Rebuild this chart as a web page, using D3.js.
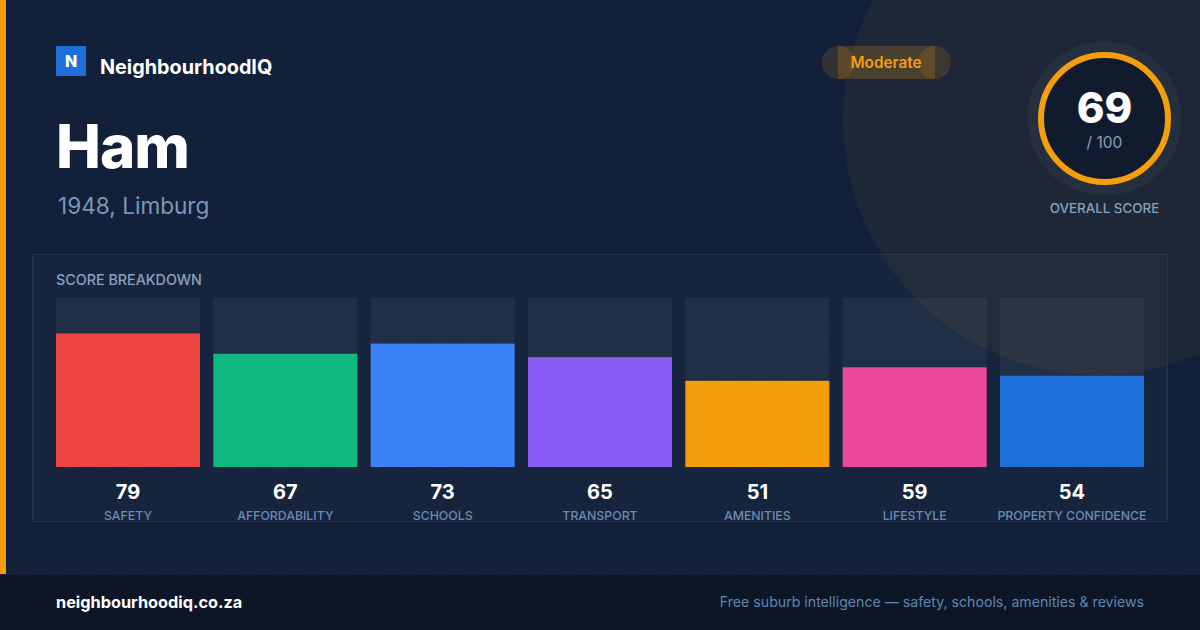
<!DOCTYPE html>
<html>
<head>
<meta charset="utf-8">
<script src="https://cdn.jsdelivr.net/npm/d3@7"></script>
<style>
  html, body { margin: 0; padding: 0; background: #12203a; }
  svg { display: block; font-family: Inter, "Noto Sans", sans-serif; }
</style>
</head>
<body>
<svg id="chart" width="1200" height="630"></svg>
<script>
// ---- data ----
const categories = ["SAFETY", "AFFORDABILITY", "SCHOOLS", "TRANSPORT", "AMENITIES", "LIFESTYLE", "PROPERTY CONFIDENCE"];
const scores = [79, 67, 73, 65, 51, 59, 54];
const barColors = ["#ef4444", "#10b981", "#3b82f6", "#8b5cf6", "#f59e0b", "#ec4899", "#1e6fd9"];
const overallScore = 69;
const overallMax = 100;
const ratingLabel = "Moderate";
const suburbName = "Ham";
const subtitle = "1948, Limburg";
const brandName = "NeighbourhoodIQ";
const footerLeft = "neighbourhoodiq.co.za";
const footerRight = "Free suburb intelligence — safety, schools, amenities & reviews";

const svg = d3.select("#chart");
const W = 1200, H = 630;

// background
svg.append("rect").attr("width", W).attr("height", H).attr("fill", "#12203a");

// dot pattern
const defs = svg.append("defs");
const pat = defs.append("pattern").attr("id", "dots").attr("patternUnits", "userSpaceOnUse")
  .attr("x", 8).attr("y", 8).attr("width", 32).attr("height", 32);
pat.append("circle").attr("cx", 16).attr("cy", 16).attr("r", 1.1).attr("fill", "rgba(255,255,255,0.05)");
svg.append("rect").attr("width", W).attr("height", 574).attr("fill", "url(#dots)");

// decorative circle
svg.append("circle").attr("cx", 1098).attr("cy", 120).attr("r", 255)
  .attr("fill", "rgba(245,158,11,0.06)");

// left accent strip
svg.append("rect").attr("x", 0).attr("y", 0).attr("width", 6).attr("height", 574).attr("fill", "#f59e0b");

// brand
svg.append("rect").attr("x", 56).attr("y", 46).attr("width", 30).attr("height", 30).attr("fill", "#1e6fd9");
svg.append("text").attr("x", 71).attr("y", 67).attr("text-anchor", "middle")
  .attr("fill", "#fff").attr("font-size", 16).attr("font-weight", 800).text("N");
svg.append("text").attr("x", 100).attr("y", 74).attr("fill", "#fff")
  .attr("font-size", 19.8).attr("font-weight", 700).text(brandName);

// title
svg.append("text").attr("x", 56).attr("y", 168).attr("fill", "#fff")
  .attr("font-size", 60).attr("font-weight", 800).attr("letter-spacing", -1).text(suburbName);
svg.append("text").attr("x", 58).attr("y", 214).attr("fill", "#7f96b5")
  .attr("font-size", 22.6).attr("font-weight", 400).text(subtitle);

// badge
const badge = svg.append("g");
badge.append("circle").attr("cx", 838.5).attr("cy", 62.5).attr("r", 16.5).attr("fill", "rgba(245,158,11,0.14)");
badge.append("circle").attr("cx", 934.5).attr("cy", 62.5).attr("r", 16.5).attr("fill", "rgba(245,158,11,0.14)");
badge.append("rect").attr("x", 838).attr("y", 46).attr("width", 97).attr("height", 33).attr("fill", "rgba(245,158,11,0.2)");
badge.append("text").attr("x", 886).attr("y", 67.5).attr("text-anchor", "middle")
  .attr("fill", "#f59e0b").attr("font-size", 15.3).attr("font-weight", 600).text(ratingLabel);

// overall score ring
const cx = 1104.5, cy = 118.5;
svg.append("circle").attr("cx", cx).attr("cy", cy).attr("r", 77).attr("fill", "rgba(255,255,255,0.04)");
svg.append("circle").attr("cx", cx).attr("cy", cy).attr("r", 63.5).attr("fill", "#111b2e")
  .attr("stroke", "#f59e0b").attr("stroke-width", 6);
svg.append("text").attr("x", cx).attr("y", 123).attr("text-anchor", "middle").attr("fill", "#fff")
  .attr("font-size", 42).attr("font-weight", 800).text(overallScore);
svg.append("text").attr("x", cx).attr("y", 148).attr("text-anchor", "middle").attr("fill", "#8aa0bf")
  .attr("font-size", 15.5).text("/ " + overallMax);
svg.append("text").attr("x", cx).attr("y", 213).attr("text-anchor", "middle").attr("fill", "#8aa0bf")
  .attr("font-size", 13.4).attr("font-weight", 500).text("OVERALL SCORE");

// panel
svg.append("rect").attr("x", 32.5).attr("y", 254.5).attr("width", 1135).attr("height", 267)
  .attr("fill", "rgba(255,255,255,0.02)").attr("stroke", "rgba(255,255,255,0.08)");
svg.append("text").attr("x", 56).attr("y", 285).attr("fill", "#8aa0bf")
  .attr("font-size", 14.3).attr("font-weight", 500).text("SCORE BREAKDOWN");

// scales
const x = d3.scaleBand().domain(categories).range([56, 1144]).paddingInner(0.0847).paddingOuter(0);
const y = d3.scaleLinear().domain([0, 100]).range([467, 298]);

const data = categories.map((c, i) => ({ cat: c, val: scores[i], color: barColors[i] }));

const g = svg.append("g");
g.selectAll("rect.track").data(data).join("rect").attr("class", "track")
  .attr("x", d => x(d.cat)).attr("y", y(100)).attr("width", x.bandwidth()).attr("height", y(0) - y(100))
  .attr("fill", "rgba(255,255,255,0.05)");
g.selectAll("rect.bar").data(data).join("rect").attr("class", "bar")
  .attr("x", d => x(d.cat)).attr("y", d => y(d.val)).attr("width", x.bandwidth()).attr("height", d => y(0) - y(d.val))
  .attr("fill", d => d.color);
g.selectAll("text.val").data(data).join("text").attr("class", "val")
  .attr("x", d => x(d.cat) + x.bandwidth() / 2).attr("y", 498.5).attr("text-anchor", "middle")
  .attr("fill", "#fff").attr("font-size", 20).attr("font-weight", 700).text(d => d.val);
g.selectAll("text.cat").data(data).join("text").attr("class", "cat")
  .attr("x", d => x(d.cat) + x.bandwidth() / 2).attr("y", 520).attr("text-anchor", "middle")
  .attr("fill", "#6d8bb0").attr("font-size", 12.3).attr("font-weight", 500).text(d => d.cat);

// footer
svg.append("rect").attr("x", 0).attr("y", 574).attr("width", W).attr("height", 56).attr("fill", "#0c1627");
svg.append("line").attr("x1", 0).attr("x2", W).attr("y1", 574.5).attr("y2", 574.5).attr("stroke", "rgba(255,255,255,0.05)");
svg.append("text").attr("x", 56).attr("y", 608).attr("fill", "#fff")
  .attr("font-size", 16.3).attr("font-weight", 700).text(footerLeft);
svg.append("text").attr("x", 1144).attr("y", 607).attr("text-anchor", "end").attr("fill", "#5f86b0")
  .attr("font-size", 14.15).text(footerRight);
</script>
</body>
</html>
